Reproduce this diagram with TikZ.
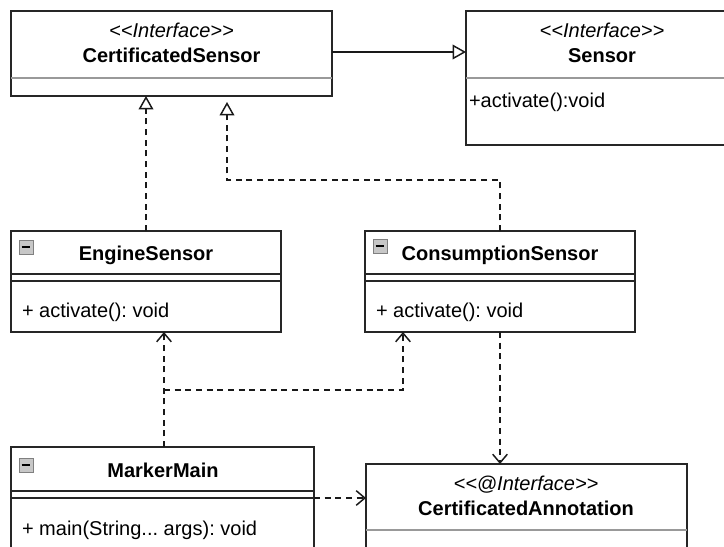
\documentclass[tikz,border=0pt]{standalone}
\usepackage{fontspec}
\setmainfont{Liberation Sans}
\usetikzlibrary{arrows.meta}
\frenchspacing
\newcommand{\stl}{\mbox{<}\mbox{<}}
\newcommand{\stg}{\mbox{>}\mbox{>}}
\begin{document}
\begin{tikzpicture}[x=0.75pt,y=-0.75pt,
  every node/.style={inner sep=0pt, outer sep=0pt},
  umlbox/.style={draw=black!85, line width=1.1pt, anchor=north west},
  graysep/.style={draw=black!40, line width=0.8pt},
  blacksep/.style={draw=black!85, line width=1.1pt},
  txt/.style={font=\fontsize{15}{17}\selectfont, anchor=base},
  ttl/.style={txt, font=\fontsize{15}{17}\selectfont\bfseries},
  stereo/.style={txt, font=\fontsize{15}{17}\selectfont\itshape},
  meth/.style={txt, anchor=base west},
  icon/.style={draw=black!50, fill=black!22, line width=0.6pt, minimum size=10.5pt,
    path picture={\draw[black, line width=1.4pt]
      ([xshift=-3.2pt]path picture bounding box.center) -- ([xshift=3.2pt]path picture bounding box.center);}},
  conn/.style={draw=black!90, line width=1.1pt},
  dep/.style={conn, dash pattern=on 4.5pt off 3.5pt},
  tri/.style={-{Triangle[open, length=10pt, width=11pt, line width=1.1pt]}},
  vee/.style={-{Straight Barb[length=6.5pt, width=11pt, line width=1.1pt]}}
]
\useasboundingbox (0,0) rectangle (724,546);
\clip (0,0) rectangle (724,546);
\fill[white] (0,0) rectangle (724,546);

% CertificatedSensor
\node[umlbox, minimum width=321*0.75pt, minimum height=85*0.75pt] (cs) at (11,11) {};
\draw[graysep] (11,78) -- (332,78);
\node[stereo] (cs1) at (171.5,37) {\stl Interface\stg};
\node[ttl] (cs2) at (171.5,62) {CertificatedSensor};

% Sensor
\node[umlbox, minimum width=272*0.75pt, minimum height=134*0.75pt] (sn) at (466,11) {};
\draw[graysep] (466,78) -- (738,78);
\node[stereo] (sn1) at (602,37) {\stl Interface\stg};
\node[ttl] (sn2) at (602,62) {Sensor};
\node[meth] (sn3) at (469,107) {+activate():void};

% EngineSensor
\node[umlbox, minimum width=270*0.75pt, minimum height=101*0.75pt] (es) at (11,231) {};
\draw[blacksep] (11,274) -- (281,274);
\draw[blacksep] (11,281) -- (281,281);
\node[icon] (esi) at (26,247) {};
\node[ttl] (es1) at (146,260) {EngineSensor};
\node[meth] (es2) at (22,317) {+ activate(): void};

% ConsumptionSensor
\node[umlbox, minimum width=270*0.75pt, minimum height=101*0.75pt] (cn) at (365,231) {};
\draw[blacksep] (365,274) -- (635,274);
\draw[blacksep] (365,281) -- (635,281);
\node[icon] (cni) at (380,246) {};
\node[ttl] (cn1) at (500,260) {ConsumptionSensor};
\node[meth] (cn2) at (376,317) {+ activate(): void};

% MarkerMain
\node[umlbox, minimum width=303*0.75pt, minimum height=120*0.75pt] (mm) at (11,447) {};
\draw[blacksep] (11,491) -- (314,491);
\draw[blacksep] (11,498) -- (314,498);
\node[icon] (mmi) at (26,465) {};
\node[ttl] (mm1) at (163,477) {MarkerMain};
\node[meth] (mm2) at (22,535) {+ main(String... args): void};

% CertificatedAnnotation
\node[umlbox, minimum width=321*0.75pt, minimum height=110*0.75pt] (ca) at (366,464) {};
\draw[graysep] (366,530) -- (687,530);
\node[stereo] (ca1) at (526,490) {\stl @Interface\stg};
\node[ttl] (ca2) at (526,515) {CertificatedAnnotation};

% connectors
\coordinate (b1) at (227,180);
\coordinate (j) at (164,390);
\coordinate (k) at (403,390);
\coordinate (m) at (314,498);

\draw[conn, tri] (cs.east |- 0,52) -- (sn.west |- 0,52);
\draw[dep, tri] (es.north) -- (es.north |- cs.south);
\draw[dep, tri] (cn.north) |- (b1) -- ([yshift=-4.5pt]b1 |- cs.south);
\draw[dep, vee] (j |- mm.north) -- (j |- es.south);
\draw[dep, vee] (j) -- (k) -- (k |- cn.south);
\draw[dep, vee] (cn.south) -- (cn.south |- ca.north);
\draw[dep, vee] (m) -- (m -| ca.west);
\end{tikzpicture}
\end{document}
